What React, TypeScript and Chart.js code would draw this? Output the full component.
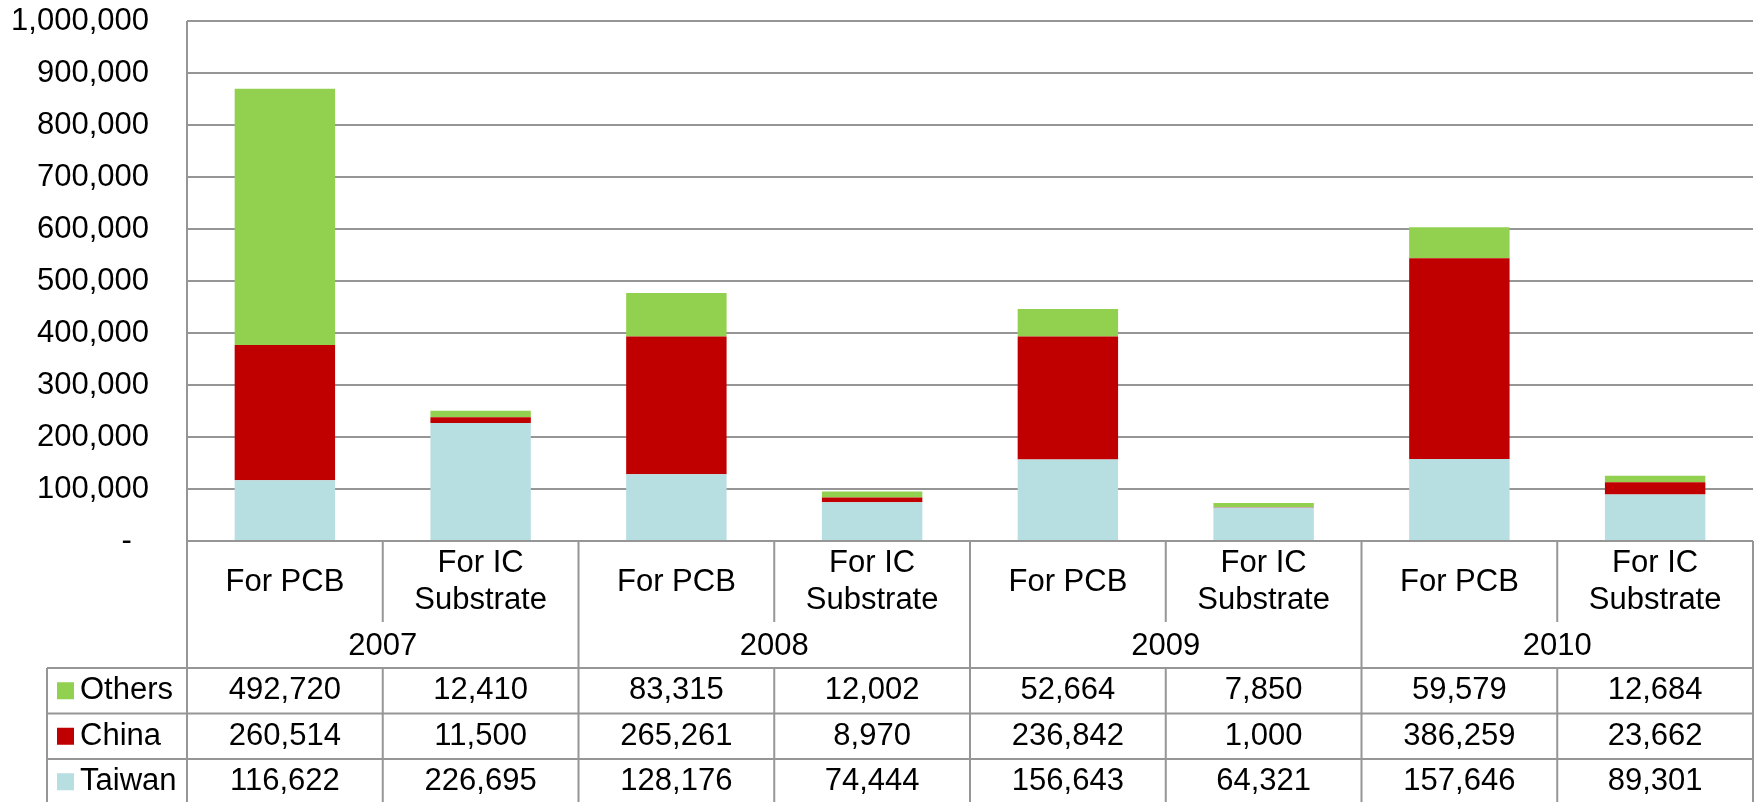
import React, { useEffect, useRef } from 'react';
import { Chart, registerables } from 'chart.js';

Chart.register(...registerables);

const years = ['2007', '2008', '2009', '2010'];
const subCategories = ['For PCB', 'For IC\nSubstrate'];
const categories = years.flatMap((y) => subCategories.map((s) => `${y} ${s}`));

const seriesNames = ['Others', 'China', 'Taiwan'];
const othersValues = [492720, 12410, 83315, 12002, 52664, 7850, 59579, 12684];
const chinaValues = [260514, 11500, 265261, 8970, 236842, 1000, 386259, 23662];
const taiwanValues = [116622, 226695, 128176, 74444, 156643, 64321, 157646, 89301];
const seriesColors = ['#92D050', '#C00000', '#B7DEE1'];

const yMax = 1000000;
const yStep = 100000;

const FONT = '"Liberation Sans", Arial, sans-serif';
const FONT_SIZE = 31;
const LINE = '#969696';

const fmt = (v: number) => v.toLocaleString('en-US');

const tablePlugin = {
  id: 'dataTable',
  afterDraw(chart: any) {
    const ctx = chart.ctx as CanvasRenderingContext2D;
    const { left, right, top, bottom } = chart.chartArea;
    const n = categories.length;
    const colW = (right - left) / n;
    const H = chart.height;
    const subRowBottom = bottom + 81;
    const yearRowBottom = bottom + 127;
    const rowH = 45.5;
    const legendLeft = 47;

    ctx.save();
    ctx.strokeStyle = LINE;
    ctx.lineWidth = 2;
    const line = (x1: number, y1: number, x2: number, y2: number) => {
      ctx.beginPath();
      ctx.moveTo(x1, y1);
      ctx.lineTo(x2, y2);
      ctx.stroke();
    };
    line(left, bottom, right, bottom);
    line(left, top, left, H);
    line(right, bottom, right, H);
    for (let i = 1; i < n; i++) {
      const x = left + i * colW;
      if (i % 2 === 0) line(x, bottom, x, H);
      else {
        line(x, bottom, x, subRowBottom);
        line(x, yearRowBottom, x, H);
      }
    }
    line(legendLeft, yearRowBottom, right, yearRowBottom);
    line(legendLeft, yearRowBottom + rowH, right, yearRowBottom + rowH);
    line(legendLeft, yearRowBottom + 2 * rowH, right, yearRowBottom + 2 * rowH);
    line(legendLeft, yearRowBottom, legendLeft, H);

    ctx.fillStyle = '#000';
    ctx.font = `${FONT_SIZE}px ${FONT}`;
    ctx.textAlign = 'center';
    ctx.textBaseline = 'middle';
    for (let i = 0; i < n; i++) {
      const cx = chart.scales.x.getPixelForValue(i);
      const lines = subCategories[i % 2].split('\n');
      const mid = bottom + 41;
      const lh = 36.5;
      lines.forEach((t, k) => {
        ctx.fillText(t, cx, mid + (k - (lines.length - 1) / 2) * lh);
      });
    }
    years.forEach((y, j) => {
      const cx = left + (j * 2 + 1) * colW;
      ctx.fillText(y, cx, bottom + 105);
    });
    const rows = [othersValues, chinaValues, taiwanValues];
    rows.forEach((vals, r) => {
      const cy = yearRowBottom + r * rowH + rowH / 2;
      vals.forEach((v, i) => {
        const cx = chart.scales.x.getPixelForValue(i);
        ctx.fillText(fmt(v), cx, cy);
      });
      ctx.fillStyle = seriesColors[r];
      ctx.fillRect(57, cy - 8.5, 17, 17);
      ctx.fillStyle = '#000';
      ctx.textAlign = 'left';
      ctx.fillText(seriesNames[r], 80, cy);
      ctx.textAlign = 'center';
    });
    ctx.restore();
  },
};

export default function App() {
  const ref = useRef<HTMLCanvasElement>(null);
  useEffect(() => {
    document.body.style.margin = '0';
    const canvas = ref.current!;
    const chart = new Chart(canvas, {
      type: 'bar',
      data: {
        labels: categories,
        datasets: [
          { label: 'Taiwan', data: taiwanValues, backgroundColor: seriesColors[2] },
          { label: 'China', data: chinaValues, backgroundColor: seriesColors[1] },
          { label: 'Others', data: othersValues, backgroundColor: seriesColors[0] },
        ],
      },
      options: {
        responsive: false,
        animation: false,
        layout: { padding: { left: 0, right: 5, top: 21, bottom: 261 } },
        plugins: { legend: { display: false }, tooltip: { enabled: false } },
        datasets: { bar: { barPercentage: 0.513, categoryPercentage: 1 } },
        scales: {
          x: { stacked: true, display: false },
          y: {
            stacked: true,
            min: 0,
            max: yMax,
            afterFit: (scale: any) => {
              scale.width = 187;
              scale.paddingTop = 0;
              scale.paddingBottom = 0;
            },
            ticks: {
              stepSize: yStep,
              padding: 38,
              color: '#000',
              font: { family: FONT, size: FONT_SIZE },
              callback: (v: any) => (Number(v) === 0 ? '-  ' : fmt(Number(v))),
            },
            grid: { color: LINE, lineWidth: 2, drawTicks: false },
            border: { display: false },
          },
        },
      },
      plugins: [tablePlugin],
    });
    return () => chart.destroy();
  }, []);
  return <canvas ref={ref} width={1758} height={802} style={{ display: 'block' }} />;
}
